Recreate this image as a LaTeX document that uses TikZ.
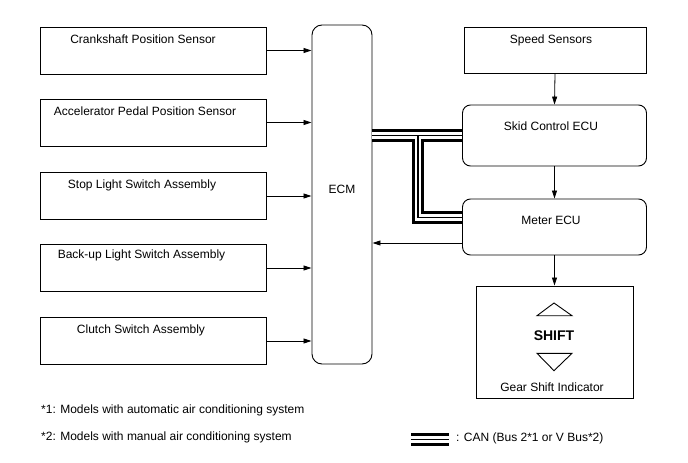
\documentclass[tikz,border=0pt]{standalone}
\usepackage{fontspec}
\setmainfont{Liberation Sans}
\usetikzlibrary{arrows.meta,calc}
\begin{document}
\begin{tikzpicture}[x=1pt,y=-1pt,
  box/.style={draw, line width=0.9pt, inner sep=0pt},
  rbox/.style={box, rounded corners=8pt},
  lbl/.style={font=\fontsize{12}{14}\selectfont, inner sep=0pt},
  arr/.style={line width=0.8pt, -{Triangle[length=8pt,width=5pt]}},
  canA/.style={line width=12.5pt, black},
  canB/.style={line width=6.5pt, white},
  canC/.style={line width=1.3pt, black}]
\useasboundingbox (0,0) rectangle (688,463);

% left input boxes
\node[box, minimum width=226pt, minimum height=47pt] (b1) at (153,50.5) {};
\node[box, minimum width=226pt, minimum height=47pt] (b2) at (153,122.5) {};
\node[box, minimum width=226pt, minimum height=47pt] (b3) at (153,196) {};
\node[box, minimum width=226pt, minimum height=47pt] (b4) at (153,268) {};
\node[box, minimum width=226pt, minimum height=47pt] (b5) at (153,341) {};
\node[lbl] (t1) at (143,39) {Crankshaft Position Sensor};
\node[lbl] (t2) at (145,111) {Accelerator Pedal Position Sensor};
\node[lbl] (t3) at (142,185) {Stop Light Switch Assembly};
\node[lbl] (t4) at (141.5,255) {Back-up Light Switch Assembly};
\node[lbl] (t5) at (141,330) {Clutch Switch Assembly};

% ECM
\node[box, rounded corners=10pt, minimum width=60pt, minimum height=339pt] (ecm) at (342,194.5) {};
\node[lbl] (ecmt) at (342,189) {ECM};

\foreach \b in {b1,b2,b3,b4,b5}
  \draw[arr] (\b.east) -- (\b.east -| ecm.west);

% right side
\node[box, minimum width=182pt, minimum height=46pt] (speed) at (555,50.3) {};
\node[lbl] (speedt) at (551,40) {Speed Sensors};
\node[rbox, minimum width=184pt, minimum height=61pt] (skid) at (554.5,135.5) {};
\node[lbl] (skidt) at (551,126) {Skid Control ECU};
\node[rbox, minimum width=184pt, minimum height=56pt] (meter) at (554.5,227) {};
\node[lbl] (metert) at (551,220) {Meter ECU};
\node[box, minimum width=157pt, minimum height=112pt] (gear) at (554.5,342) {};

\draw[arr] (speed.south) -- (skid.north);
\draw[arr] (skid.south) -- (meter.north);
\draw[arr] (meter.south) -- (gear.north);

\coordinate (ma) at ($(meter.west)+(0,16)$);
\draw[arr] (ma) -- (ma -| ecm.east);

% gear shift indicator content
\draw[line width=0.9pt, line join=miter] ($(gear.center)+(-17.5,-26.3)$) -- ($(gear.center)+(-0.5,-39)$) -- ($(gear.center)+(17.5,-26.3)$) -- cycle;
\node[font=\fontsize{14}{16}\selectfont\bfseries, inner sep=0pt] (shift) at (554,335.7) {SHIFT};
\draw[line width=0.9pt, line join=miter] ($(gear.center)+(-17.5,11.3)$) -- ($(gear.center)+(-0.5,28.7)$) -- ($(gear.center)+(17.5,11.3)$) -- cycle;
\node[lbl] (geart) at (552,387.3) {Gear Shift Indicator};

% CAN bus
\coordinate (c0) at (ecm.east |- skid.west);
\coordinate (cj) at (418,135.5);
\coordinate (cm) at ($(meter.west)+(0,-9.5)$);
\foreach \s in {canA,canB,canC} {
  \draw[\s] (c0) -- (skid.west);
  \draw[\s] (cj) -- (cj |- cm) -- (cm);
}

% legend
\coordinate (la) at (411,439.5);
\coordinate (lb) at (449,439.5);
\draw[canA] (la) -- (lb);
\draw[canB] (la) -- (lb);
\draw[canC] (la) -- (lb);
\node[lbl, anchor=west] (lt) at (456,438) {: CAN (Bus 2*1 or V Bus*2)};

% footnotes
\node[lbl, anchor=west] (n1) at (41,410) {*1: Models with automatic air conditioning system};
\node[lbl, anchor=west] (n2) at (41,437) {*2: Models with manual air conditioning system};
\end{tikzpicture}
\end{document}
